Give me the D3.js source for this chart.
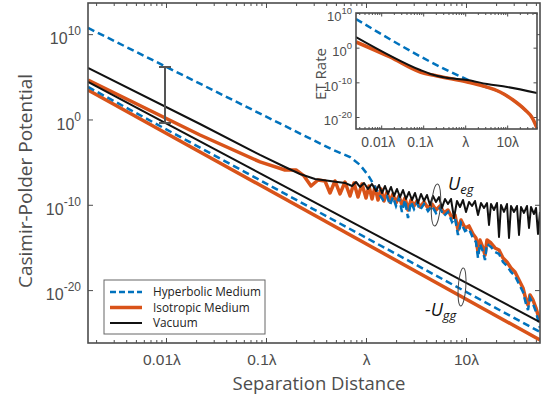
<!DOCTYPE html>
<html lang="en">
<head>
<meta charset="UTF-8">
<title>Casimir-Polder Potential</title>
<script src="https://d3js.org/d3.v7.min.js"></script>
<style>
  body { margin: 0; background: #fff; }
  svg { display: block; font-family: "Open Sans", "DejaVu Sans", sans-serif; }
  .axis path { display: none; }
  .axis line { stroke: #4d4d4d; stroke-width: 1; }
  .axis text { fill: #4d4d4d; }
  .frame { fill: none; stroke: #4d4d4d; stroke-width: 1.6; }
</style>
</head>
<body>
<svg width="555" height="403"></svg>
<script>
// separation in units of lambda, potentials as log10 values: [log10 sep, log10 U]
var sepTicks = [0.01, 0.1, 1, 10];
var sepLabels = ["0.01λ", "0.1λ", "λ", "10λ"];
var potTicks = [1e10, 1, 1e-10, 1e-20];
var etTicks = [1e10, 1, 1e-10, 1e-20];

// -Ugg (straight power laws)
var uggVacuum = [[-2.78, 4.40], [1.74, -23.74]];
var uggHyper = [[-2.78, 3.81], [1.74, -24.91]];
var uggIso = [[-2.78, 3.46], [1.74, -25.85]];

// Ueg, vacuum
var uegVacuum = [[-2.78, 6.04], [-1.66, -0.53], [-1.06, -4.16], [-0.81, -5.57], [-0.66, -6.39], [-0.51, -6.98],
  [-0.36, -7.21], [-0.21, -7.44], [-0.14, -7.80], [-0.10, -7.33], [-0.06, -7.91], [-0.02, -7.44], [0.02, -8.15],
  [0.06, -7.56], [0.10, -8.38], [0.13, -7.68], [0.16, -8.62], [0.19, -7.80], [0.22, -8.73], [0.25, -7.91],
  [0.28, -8.97], [0.31, -8.15], [0.34, -9.09], [0.37, -8.27], [0.40, -9.32], [0.43, -8.50], [0.46, -9.44],
  [0.49, -8.62], [0.52, -9.79], [0.55, -8.73], [0.58, -9.55], [0.61, -8.85], [0.64, -10.02], [0.67, -8.97],
  [0.70, -9.67], [0.73, -9.09], [0.76, -10.37], [0.79, -9.32], [0.82, -9.91], [0.85, -9.32], [0.88, -11.55],
  [0.91, -9.55], [0.94, -10.26], [0.97, -9.44], [1.00, -10.84], [1.03, -9.67], [1.06, -10.14], [1.09, -9.55],
  [1.12, -11.20], [1.15, -9.79], [1.18, -10.37], [1.21, -9.79], [1.23, -12.37], [1.25, -9.91], [1.28, -10.61],
  [1.31, -9.79], [1.33, -13.77], [1.35, -10.02], [1.38, -10.84], [1.41, -9.91], [1.43, -13.89], [1.45, -10.14],
  [1.48, -10.84], [1.51, -10.14], [1.53, -13.54], [1.55, -10.26], [1.58, -10.96], [1.61, -10.14], [1.63, -12.72],
  [1.65, -10.26], [1.68, -11.08], [1.70, -10.37], [1.72, -13.42], [1.74, -10.84]];

// Ueg, isotropic medium
var uegIso = [[-2.78, 4.63], [-1.66, -1.82], [-1.06, -4.98], [-0.81, -5.92], [-0.70, -5.92], [-0.62, -6.62],
  [-0.55, -7.80], [-0.48, -7.09], [-0.41, -7.21], [-0.36, -8.62], [-0.31, -7.21], [-0.26, -8.73], [-0.21, -7.33],
  [-0.16, -8.97], [-0.12, -7.44], [-0.08, -9.09], [-0.04, -7.56], [0.00, -9.20], [0.03, -7.80], [0.06, -9.32],
  [0.09, -7.91], [0.12, -9.44], [0.15, -8.15], [0.18, -9.55], [0.21, -8.50], [0.24, -9.67], [0.27, -8.73],
  [0.30, -9.79], [0.33, -8.97], [0.36, -10.02], [0.39, -9.20], [0.42, -10.61], [0.45, -9.44], [0.48, -10.14],
  [0.51, -9.55], [0.54, -10.26], [0.58, -9.67], [0.62, -10.37], [0.66, -9.91], [0.70, -10.61], [0.74, -10.14],
  [0.78, -10.96], [0.82, -10.61], [0.86, -11.55], [0.89, -11.20], [0.92, -12.95], [0.95, -11.78], [0.99, -12.72],
  [1.03, -12.48], [1.07, -13.42], [1.10, -13.89], [1.12, -15.53], [1.14, -14.13], [1.17, -15.06], [1.19, -15.88],
  [1.21, -14.13], [1.25, -14.48], [1.29, -15.06], [1.33, -15.30], [1.37, -16.24], [1.41, -16.71], [1.45, -17.41],
  [1.49, -17.87], [1.53, -18.82], [1.57, -19.75], [1.60, -21.16], [1.62, -21.75], [1.64, -20.57], [1.67, -21.16],
  [1.70, -22.10], [1.72, -22.92], [1.74, -23.74]];

// Ueg, hyperbolic medium
var uegHyper = [[-2.78, 10.73], [-0.33, -3.57], [-0.16, -4.40], [-0.06, -5.33], [0.02, -6.51], [0.08, -7.68],
  [0.13, -8.73], [0.17, -9.44], [0.21, -8.97], [0.24, -10.02], [0.27, -9.09], [0.30, -10.14], [0.33, -9.20],
  [0.36, -10.84], [0.39, -9.44], [0.42, -11.55], [0.45, -9.67], [0.48, -10.49], [0.51, -9.79], [0.54, -10.61],
  [0.58, -9.91], [0.62, -10.72], [0.66, -10.14], [0.70, -10.96], [0.74, -10.37], [0.78, -11.31], [0.82, -10.84],
  [0.86, -12.02], [0.89, -11.55], [0.92, -13.54], [0.95, -12.14], [0.99, -13.07], [1.03, -12.83], [1.07, -13.89],
  [1.10, -14.36], [1.12, -16.24], [1.14, -14.59], [1.17, -15.53], [1.19, -16.47], [1.21, -14.59], [1.25, -14.94],
  [1.29, -15.53], [1.33, -15.76], [1.37, -16.71], [1.41, -17.17], [1.45, -17.87], [1.49, -18.34], [1.53, -19.28],
  [1.57, -20.22], [1.60, -21.63], [1.62, -22.33], [1.64, -20.93], [1.67, -21.63], [1.70, -22.56], [1.72, -23.51],
  [1.74, -24.44]];

// inset: ET rate
var etHyper = [[-2.60, 8.27], [0.19, -9.90], [0.43, -11.06], [0.83, -12.79], [1.14, -15.09], [1.43, -17.98],
  [1.60, -20.29], [1.71, -23.17]];
var etIso = [[-2.60, 1.64], [-1.79, -2.69], [-1.07, -7.02], [-0.67, -8.17], [0.05, -9.90], [0.43, -11.06],
  [0.83, -12.79], [1.14, -15.09], [1.43, -17.98], [1.60, -20.29], [1.71, -23.17]];
var etVacuum = [[-2.60, 3.08], [-1.07, -6.44], [-0.83, -7.59], [-0.48, -8.60], [0.05, -9.33], [0.52, -10.48],
  [1.00, -11.34], [1.71, -13.07]];

// error bar between Ueg hyperbolic and -Ugg vacuum, at 0.01 lambda
var gapBar = [-2.01, 6.15, -0.41];

var blue = "#0072BD", orange = "#D95319", black = "#111";

var svg = d3.select("svg");

function minorTicks(lo, hi) {
  var out = [];
  for (var e = Math.floor(lo); e <= Math.ceil(hi); e++)
    for (var k = 2; k <= 9; k++) {
      var v = k * Math.pow(10, e);
      if (Math.log10(v) > lo && Math.log10(v) < hi) out.push(v);
    }
  return out;
}

function supLabels(g, size, sup, shift) {
  g.selectAll(".tick text").each(function (d) {
    var t = d3.select(this);
    t.text(null);
    t.append("tspan").text("10");
    t.append("tspan").attr("dy", -shift).attr("font-size", sup).text(Math.round(Math.log10(d)));
  });
}

// ---------- main axes ----------
var L = 88, R = 540, T = 3, B = 343;
var x = d3.scaleLog().domain([Math.pow(10, -2.78), Math.pow(10, 1.74)]).range([L, R]);
var y = d3.scaleLog().domain([Math.pow(10, -26.2), Math.pow(10, 13.65)]).range([B, T]);

svg.append("clipPath").attr("id", "clipMain").append("rect")
  .attr("x", L).attr("y", T).attr("width", R - L).attr("height", B - T);

var minorX = minorTicks(-2.78, 1.74);

svg.append("g").attr("class", "axis").attr("transform", "translate(0," + B + ")")
  .call(d3.axisBottom(x).tickValues(minorX).tickSize(-3).tickFormat(""));
svg.append("g").attr("class", "axis").attr("transform", "translate(0," + T + ")")
  .call(d3.axisTop(x).tickValues(minorX).tickSize(-3).tickFormat(""));
svg.append("g").attr("class", "axis").attr("transform", "translate(0," + T + ")")
  .call(d3.axisTop(x).tickValues(sepTicks).tickSize(-5).tickFormat(""));

var xAxisG = svg.append("g").attr("class", "axis").attr("transform", "translate(0," + B + ")")
  .call(d3.axisBottom(x).tickValues(sepTicks).tickSize(-5).tickPadding(11)
    .tickFormat(function (d, i) { return sepLabels[i]; }));
xAxisG.selectAll("text").attr("font-size", 15.5).attr("dx", function (d) { return d < 1 ? "-0.3em" : 0; });

var yAxisG = svg.append("g").attr("class", "axis").attr("transform", "translate(" + L + ",0)")
  .call(d3.axisLeft(y).tickValues(potTicks).tickSize(-5).tickPadding(7));
yAxisG.selectAll("text").attr("font-size", 16).attr("dy", "0.6em");
supLabels(yAxisG, 12, 12, 9);
svg.append("g").attr("class", "axis").attr("transform", "translate(" + R + ",0)")
  .call(d3.axisRight(y).tickValues(potTicks).tickSize(-5).tickFormat(""));

var line = d3.line()
  .x(function (d) { return x(Math.pow(10, d[0])); })
  .y(function (d) { return y(Math.pow(10, d[1])); });

var plot = svg.append("g").attr("clip-path", "url(#clipMain)");

plot.append("path").datum(uggIso).attr("d", line)
  .attr("fill", "none").attr("stroke", orange).attr("stroke-width", 3.5);
plot.append("path").datum(uegIso).attr("d", line)
  .attr("fill", "none").attr("stroke", orange).attr("stroke-width", 3.5).attr("stroke-linejoin", "round");
plot.append("path").datum(uggHyper).attr("d", line)
  .attr("fill", "none").attr("stroke", blue).attr("stroke-width", 2.5).attr("stroke-dasharray", "7,4");
plot.append("path").datum(uegHyper).attr("d", line)
  .attr("fill", "none").attr("stroke", blue).attr("stroke-width", 2.5).attr("stroke-dasharray", "7,4");
plot.append("path").datum(uggVacuum).attr("d", line)
  .attr("fill", "none").attr("stroke", black).attr("stroke-width", 2);
plot.append("path").datum(uegVacuum).attr("d", line)
  .attr("fill", "none").attr("stroke", black).attr("stroke-width", 2).attr("stroke-linejoin", "round");

// error bar
var gx = x(Math.pow(10, gapBar[0]));
var bar = svg.append("g").attr("stroke", "#555").attr("stroke-width", 2);
bar.append("line").attr("x1", gx).attr("x2", gx)
  .attr("y1", y(Math.pow(10, gapBar[1]))).attr("y2", y(Math.pow(10, gapBar[2])));
[gapBar[1], gapBar[2]].forEach(function (v) {
  bar.append("line").attr("x1", gx - 6).attr("x2", gx + 6)
    .attr("y1", y(Math.pow(10, v))).attr("y2", y(Math.pow(10, v)));
});

// annotation ellipses and labels
var notes = [
  { sep: 0.70, pot: -10.02, rx: 4.5, ry: 21, lx: 0.82, ly: -8.26, sign: "", sub: "eg" },
  { sep: 0.96, pot: -19.63, rx: 3.8, ry: 19, lx: 0.59, ly: -23.0, sign: "-", sub: "gg" }
];
notes.forEach(function (n) {
  var cx = x(Math.pow(10, n.sep)), cy = y(Math.pow(10, n.pot));
  svg.append("ellipse").attr("cx", cx).attr("cy", cy).attr("rx", n.rx).attr("ry", n.ry)
    .attr("transform", "rotate(4," + cx + "," + cy + ")")
    .attr("fill", "none").attr("stroke", "#444").attr("stroke-width", 1);
  var t = svg.append("text").attr("x", x(Math.pow(10, n.lx))).attr("y", y(Math.pow(10, n.ly)))
    .attr("font-size", 18).attr("font-style", "italic").attr("fill", "#111");
  t.append("tspan").text(n.sign + "U");
  t.append("tspan").attr("dy", 4).attr("font-size", 13).text(n.sub);
});

svg.append("rect").attr("class", "frame").attr("x", L).attr("y", T).attr("width", R - L).attr("height", B - T);

// titles
svg.append("text").attr("x", 319).attr("y", 390).attr("text-anchor", "middle")
  .attr("font-size", 18.5).attr("fill", "#4d4d4d").text("Separation Distance");
svg.append("text").attr("transform", "translate(32,181) rotate(-90)").attr("text-anchor", "middle")
  .attr("font-size", 19).attr("fill", "#4d4d4d").text("Casimir-Polder Potential");

// legend
var legendItems = [
  { name: "Hyperbolic Medium", color: blue, w: 2.5, dash: "6,3" },
  { name: "Isotropic Medium", color: orange, w: 3.5, dash: null },
  { name: "Vacuum", color: black, w: 2, dash: null }
];
var lg = svg.append("g").attr("transform", "translate(104,280)");
lg.append("rect").attr("width", 161).attr("height", 54).attr("fill", "#fff")
  .attr("stroke", "#666").attr("stroke-width", 1);
lg.selectAll("g.item").data(legendItems).enter().append("g").attr("class", "item")
  .attr("transform", function (d, i) { return "translate(0," + (12 + i * 15.5) + ")"; })
  .each(function (d) {
    var g = d3.select(this);
    g.append("line").attr("x1", 6).attr("x2", 38).attr("stroke", d.color)
      .attr("stroke-width", d.w).attr("stroke-dasharray", d.dash);
    g.append("text").attr("x", 49).attr("dy", "0.35em").attr("font-size", 11.8).attr("fill", "#222").text(d.name);
  });

// ---------- inset ----------
var iL = 356, iR = 537, iT = 13, iB = 129;
var xi = d3.scaleLog().domain([Math.pow(10, -2.6), Math.pow(10, 1.71)]).range([iL, iR]);
var yi = d3.scaleLog().domain([Math.pow(10, -23.46), 1e10]).range([iB, iT]);

svg.append("rect").attr("x", iL).attr("y", iT).attr("width", iR - iL).attr("height", iB - iT).attr("fill", "#fff");
svg.append("clipPath").attr("id", "clipInset").append("rect")
  .attr("x", iL).attr("y", iT).attr("width", iR - iL).attr("height", iB - iT);

var minorXi = minorTicks(-2.6, 1.71);
svg.append("g").attr("class", "axis").attr("transform", "translate(0," + iB + ")")
  .call(d3.axisBottom(xi).tickValues(minorXi).tickSize(-2).tickFormat(""));
svg.append("g").attr("class", "axis").attr("transform", "translate(0," + iT + ")")
  .call(d3.axisTop(xi).tickValues(minorXi).tickSize(-2).tickFormat(""));
svg.append("g").attr("class", "axis").attr("transform", "translate(0," + iT + ")")
  .call(d3.axisTop(xi).tickValues(sepTicks).tickSize(-3.5).tickFormat(""));
var xiG = svg.append("g").attr("class", "axis").attr("transform", "translate(0," + iB + ")")
  .call(d3.axisBottom(xi).tickValues(sepTicks).tickSize(-3.5).tickPadding(8)
    .tickFormat(function (d, i) { return sepLabels[i]; }));
xiG.selectAll("text").attr("font-size", 13.8).attr("dx", function (d) { return d < 1 ? "-0.25em" : 0; });

var yiG = svg.append("g").attr("class", "axis").attr("transform", "translate(" + iL + ",0)")
  .call(d3.axisLeft(yi).tickValues(etTicks).tickSize(-3.5).tickPadding(4));
yiG.selectAll("text").attr("font-size", 13).attr("dy", "0.6em");
supLabels(yiG, 13, 9.5, 7);
svg.append("g").attr("class", "axis").attr("transform", "translate(" + iR + ",0)")
  .call(d3.axisRight(yi).tickValues(etTicks).tickSize(-3.5).tickFormat(""));

var lineI = d3.line().curve(d3.curveMonotoneX)
  .x(function (d) { return xi(Math.pow(10, d[0])); })
  .y(function (d) { return yi(Math.pow(10, d[1])); });

var ip = svg.append("g").attr("clip-path", "url(#clipInset)");
ip.append("path").datum(etHyper).attr("d", lineI)
  .attr("fill", "none").attr("stroke", blue).attr("stroke-width", 2.5).attr("stroke-dasharray", "7,4");
ip.append("path").datum(etIso).attr("d", lineI)
  .attr("fill", "none").attr("stroke", orange).attr("stroke-width", 3.5);
ip.append("path").datum(etVacuum).attr("d", lineI)
  .attr("fill", "none").attr("stroke", black).attr("stroke-width", 2);

svg.append("rect").attr("class", "frame").attr("x", iL).attr("y", iT).attr("width", iR - iL).attr("height", iB - iT);
svg.append("text").attr("transform", "translate(326,74) rotate(-90)").attr("text-anchor", "middle")
  .attr("font-size", 15).attr("fill", "#4d4d4d").text("ET Rate");
</script>
</body>
</html>
